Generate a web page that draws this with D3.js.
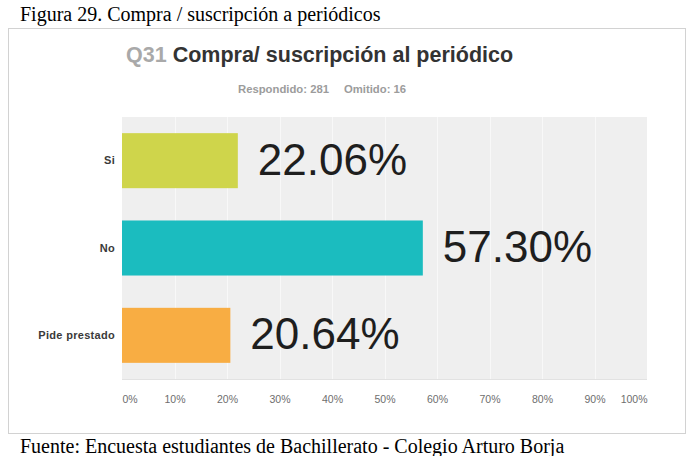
<!DOCTYPE html>
<html>
<head>
<meta charset="utf-8">
<script src="https://cdn.jsdelivr.net/npm/d3@7"></script>
<style>
  html, body { margin: 0; padding: 0; background: #fff; }
  svg { display: block; }
</style>
</head>
<body>
<svg id="chart" width="694" height="456"></svg>
<script>
// ---- Data ----
const categories = ["Si", "No", "Pide prestado"];
const values = [22.06, 57.30, 20.64];
const barColors = ["#cfd54b", "#1bbcbf", "#f8ad43"];
const xTicks = [0, 10, 20, 30, 40, 50, 60, 70, 80, 90, 100];
const questionNo = "Q31";
const questionText = "Compra/ suscripción al periódico";
const answered = 281;
const skipped = 16;
const caption = "Figura 29. Compra / suscripción a periódicos";
const source = "Fuente: Encuesta estudiantes de Bachillerato - Colegio Arturo Borja";

const svg = d3.select("#chart");
const sans = "'Liberation Sans', Arial, Helvetica, sans-serif";
const serif = "'Liberation Serif', 'Times New Roman', serif";

// Caption
svg.append("text").attr("x", 20).attr("y", 20.5)
  .attr("font-family", serif).attr("font-size", 20).attr("fill", "#000")
  .text(caption);

// Frame
svg.append("rect").attr("x", 8.5).attr("y", 28.5).attr("width", 677).attr("height", 405)
  .attr("fill", "#fff").attr("stroke", "#d2d2d2").attr("stroke-width", 1);

// Title
const title = svg.append("text").attr("x", 126).attr("y", 61.7)
  .attr("font-family", sans).attr("font-size", 21.5).attr("font-weight", "bold");
title.append("tspan").attr("fill", "#a9a9a9").text(questionNo + " ");
title.append("tspan").attr("fill", "#333").text(questionText);

// Subtitle
svg.append("text").attr("x", 238).attr("y", 92.7)
  .attr("font-family", sans).attr("font-size", 11.3).attr("font-weight", "bold").attr("fill", "#9c9c9c")
  .text("Respondido: " + answered);
svg.append("text").attr("x", 344).attr("y", 92.7)
  .attr("font-family", sans).attr("font-size", 11.3).attr("font-weight", "bold").attr("fill", "#9c9c9c")
  .text("Omitido: " + skipped);

// Scales
const x = d3.scaleLinear().domain([0, 100]).range([122, 647]);
const y = d3.scaleBand().domain(categories).range([117, 379]).paddingInner(0.37).paddingOuter(0.185);

// Plot background
svg.append("rect").attr("x", x(0)).attr("y", 117).attr("width", x(100) - x(0)).attr("height", 379 - 117)
  .attr("fill", "#efefef");

// Gridlines
svg.append("g").selectAll("line").data(xTicks.slice(1, -1)).join("line")
  .attr("x1", d => Math.round(x(d)) + 0.5).attr("x2", d => Math.round(x(d)) + 0.5)
  .attr("y1", 117).attr("y2", 379)
  .attr("stroke", "#f8f8f8").attr("stroke-width", 1);

// Bottom edge
svg.append("line").attr("x1", x(0)).attr("x2", x(100)).attr("y1", 379.5).attr("y2", 379.5)
  .attr("stroke", "#e2e2e2");

// Bars
svg.append("g").selectAll("rect").data(categories).join("rect")
  .attr("x", x(0)).attr("y", d => y(d))
  .attr("width", (d, i) => x(values[i]) - x(0))
  .attr("height", y.bandwidth())
  .attr("fill", (d, i) => barColors[i]);

// Value labels
svg.append("g").selectAll("text").data(categories).join("text")
  .attr("x", (d, i) => x(values[i]) + 20)
  .attr("y", d => y(d) + y.bandwidth() / 2 + 14)
  .attr("font-family", sans).attr("font-size", 44).attr("fill", "#1e1e1e")
  .text((d, i) => d3.format(".2f")(values[i]) + "%");

// Y axis (categories)
const yAxis = svg.append("g").attr("transform", `translate(${x(0)},0)`)
  .call(d3.axisLeft(y).tickSize(0).tickPadding(7));
yAxis.select(".domain").remove();
yAxis.selectAll("text").attr("font-family", sans).attr("font-size", 11)
  .attr("font-weight", "bold").attr("fill", "#3a3a3a").attr("letter-spacing", "0.3px");

// X axis (percent ticks)
const xAxis = svg.append("g").attr("transform", "translate(0,379)")
  .call(d3.axisBottom(x).tickValues(xTicks).tickSize(0).tickPadding(17).tickFormat(d => d + "%"));
xAxis.select(".domain").remove();
xAxis.selectAll("text").attr("font-family", sans).attr("font-size", 10.5).attr("fill", "#6e6e6e")
  .attr("text-anchor", (d, i) => i === 0 ? "start" : (i === xTicks.length - 1 ? "end" : "middle"));

// Source
svg.append("text").attr("x", 20).attr("y", 453)
  .attr("font-family", serif).attr("font-size", 20).attr("fill", "#000")
  .text(source);
</script>
</body>
</html>
